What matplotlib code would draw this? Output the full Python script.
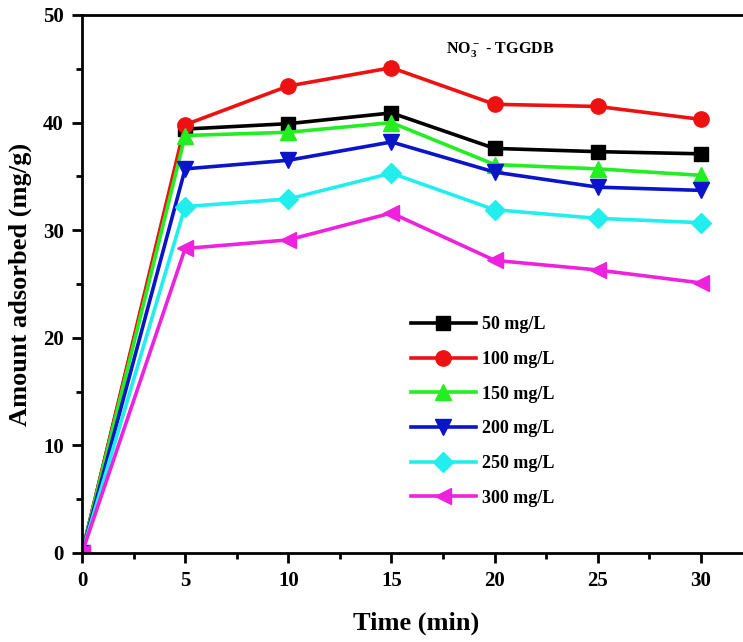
import matplotlib
matplotlib.use("Agg")
import matplotlib.pyplot as plt

time = [0, 5, 10, 15, 20, 25, 30]
labels = ["50 mg/L", "100 mg/L", "150 mg/L", "200 mg/L", "250 mg/L", "300 mg/L"]
q50 = [0, 39.4, 39.9, 40.9, 37.6, 37.3, 37.1]
q100 = [0, 39.8, 43.4, 45.1, 41.7, 41.5, 40.3]
q150 = [0, 38.8, 39.1, 40.0, 36.1, 35.7, 35.1]
q200 = [0, 35.7, 36.5, 38.2, 35.4, 34.0, 33.7]
q250 = [0, 32.2, 32.9, 35.3, 31.9, 31.1, 30.7]
q300 = [0, 28.3, 29.1, 31.6, 27.2, 26.3, 25.1]
series = [q50, q100, q150, q200, q250, q300]
colors = ["#000000", "#ee1111", "#22ee22", "#0a14c8", "#22eeee", "#ee22dd"]
markers = ["s", "o", "^", "v", "D", "<"]
msizes = [10, 11, 11, 11, 10, 11]

plt.rcParams["font.family"] = ["Liberation Serif", "DejaVu Serif"]
plt.rcParams["font.weight"] = "bold"
plt.rcParams["mathtext.fontset"] = "custom"
plt.rcParams["mathtext.rm"] = "Liberation Serif:bold"
plt.rcParams["mathtext.bf"] = "Liberation Serif:bold"
plt.rcParams["mathtext.default"] = "bf"

fig = plt.figure(figsize=(7.43, 6.42), dpi=100)
ax = fig.add_axes([82/743, 89/642, (743-82)/743 + 0.01, (553-15)/642])

for y, c, m, ms, lab in zip(series, colors, markers, msizes, labels):
    ax.plot(time, y, color=c, marker=m, markersize=ms, linewidth=2.6, label=lab,
            markeredgecolor=c)

ax.set_xlim(0, 32.4)
ax.set_ylim(0, 50)
ax.set_xticks([0, 5, 10, 15, 20, 25, 30])
ax.set_xticks([2.5, 7.5, 12.5, 17.5, 22.5, 27.5], minor=True)
ax.set_yticks([0, 10, 20, 30, 40, 50])
ax.set_yticks([5, 15, 25, 35, 45], minor=True)
ax.tick_params(axis="both", which="major", direction="out", length=7, width=2,
               labelsize=15, pad=6)
ax.tick_params(axis="both", which="minor", direction="out", length=4, width=2)
for lab in ax.get_xticklabels() + ax.get_yticklabels():
    lab.set_fontweight("bold")
for s in ["left", "bottom", "top"]:
    ax.spines[s].set_linewidth(2)
ax.spines["right"].set_visible(False)

ax.set_xlabel("Time (min)", fontsize=19, fontweight="bold", labelpad=15)
ax.set_ylabel("Amount adsorbed (mg/g)", fontsize=19, fontweight="bold", labelpad=8)

ax.text(0.545, 0.935, r"NO$_3^-$ - TGGDB", transform=ax.transAxes,
        fontsize=11.5, fontweight="bold", ha="left", va="center")

leg = ax.legend(loc="upper left", bbox_to_anchor=(0.478, 0.457), frameon=False,
                prop={"size": 13, "weight": "bold"}, handlelength=3.6,
                labelspacing=0.98, handletextpad=0.35, borderpad=0)

fig.savefig("out.png", dpi=100)
